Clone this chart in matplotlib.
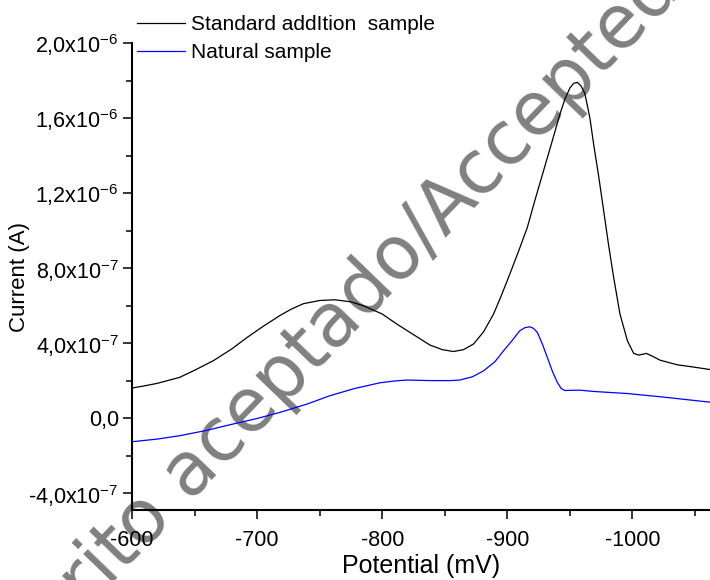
import matplotlib
matplotlib.use("Agg")
import matplotlib.pyplot as plt
from matplotlib.ticker import MultipleLocator

plt.rcParams['font.family'] = ['Liberation Sans', 'DejaVu Sans']
plt.rcParams['mathtext.default'] = 'regular'

# standard addition sample (black)
pot_std = [-600, -610, -620, -638, -650, -665, -680, -692, -705, -718, -727,
           -737, -750, -762, -775, -785, -800, -812, -825, -838, -848, -857,
           -865, -873, -881, -889, -895, -902, -909, -916, -922, -929, -936,
           -942, -946, -950, -953, -956, -959, -962, -966, -969, -973, -977,
           -981, -985, -990, -996, -1001, -1005, -1008, -1011, -1016, -1022,
           -1036, -1049, -1062]
cur_std = [1.60e-7, 1.72e-7, 1.85e-7, 2.17e-7, 2.55e-7, 3.06e-7, 3.70e-7,
           4.30e-7, 4.90e-7, 5.46e-7, 5.80e-7, 6.10e-7, 6.27e-7, 6.31e-7,
           6.20e-7, 5.99e-7, 5.55e-7, 5.00e-7, 4.45e-7, 3.90e-7, 3.65e-7,
           3.55e-7, 3.65e-7, 3.95e-7, 4.60e-7, 5.55e-7, 6.50e-7, 7.68e-7,
           8.90e-7, 1.017e-6, 1.16e-6, 1.32e-6, 1.48e-6, 1.62e-6, 1.70e-6,
           1.76e-6, 1.785e-6, 1.79e-6, 1.77e-6, 1.73e-6, 1.60e-6, 1.46e-6,
           1.29e-6, 1.106e-6, 9.2e-7, 7.5e-7, 5.56e-7, 4.12e-7, 3.45e-7,
           3.36e-7, 3.40e-7, 3.45e-7, 3.30e-7, 3.09e-7, 2.84e-7, 2.72e-7, 2.59e-7]

# natural sample (blue)
pot_nat = [-600, -620, -638, -660, -678, -700, -718, -740, -758, -778, -798,
           -810, -820, -838, -855, -862, -872, -881, -890, -897, -904, -910,
           -914, -918, -921, -924, -928, -932, -936, -940, -943, -946, -950,
           -958, -969, -996, -1022, -1062]
cur_nat = [-1.26e-7, -1.12e-7, -9.4e-8, -6.5e-8, -3.6e-8, -2e-9, 3.0e-8,
           7.5e-8, 1.19e-7, 1.58e-7, 1.88e-7, 1.98e-7, 2.03e-7, 2.00e-7,
           2.00e-7, 2.03e-7, 2.20e-7, 2.52e-7, 3.00e-7, 3.59e-7, 4.15e-7,
           4.66e-7, 4.82e-7, 4.87e-7, 4.78e-7, 4.57e-7, 3.95e-7, 3.23e-7,
           2.50e-7, 1.90e-7, 1.58e-7, 1.47e-7, 1.48e-7, 1.49e-7, 1.42e-7,
           1.31e-7, 1.14e-7, 8.5e-8]

xticks = [-600, -700, -800, -900, -1000]
yticks = [-4e-7, 0, 4e-7, 8e-7, 1.2e-6, 1.6e-6, 2.0e-6]
ylabels = ["-4,0x10$^{-7}$", "0,0", "4,0x10$^{-7}$", "8,0x10$^{-7}$",
           "1,2x10$^{-6}$", "1,6x10$^{-6}$", "2,0x10$^{-6}$"]

fig = plt.figure(figsize=(7.1, 5.8), dpi=100)
ax = fig.add_axes([132/710, 70/580, 1 - 132/710, (510 - 43)/580])

ax.plot(pot_std, cur_std, color='black', lw=0.9, label='Standard addItion  sample', zorder=3)
ax.plot(pot_nat, cur_nat, color='#0000ff', lw=0.9, label='Natural sample', zorder=3)

ax.set_xlim(-600, -1062)
ax.set_ylim(-4.9e-7, 2.0e-6)
ax.set_xticks(xticks)
ax.set_xticklabels([str(t) for t in xticks])
ax.set_yticks(yticks)
ax.set_yticklabels(ylabels)
ax.xaxis.set_minor_locator(MultipleLocator(50))
ax.yaxis.set_minor_locator(MultipleLocator(2e-7))

for s in ['top', 'right']:
    ax.spines[s].set_visible(False)
for s in ['left', 'bottom']:
    ax.spines[s].set_linewidth(1.5)

ax.tick_params(which='major', direction='out', length=6.5, width=1.1, labelsize=15.5, pad=3)
ax.tick_params(which='minor', direction='out', length=4, width=1.1)
ax.tick_params(axis='x', which='major', pad=8)

ax.set_xlabel('Potential (mV)', fontsize=18, labelpad=2)
ax.set_ylabel('Current (A)', fontsize=16, labelpad=-1)

# watermark behind the curves
ax.text(0.9634, 1.0138, "Manuscrito aceptado/Accepted", transform=fig.transFigure,
        rotation=46, rotation_mode='anchor', ha='right', va='baseline',
        fontsize=53, color='#808080', family='DejaVu Sans', zorder=1, clip_on=False)

fig.legend(loc='upper left', bbox_to_anchor=(137/710, 1 - 15.5/580), frameon=False,
           fontsize=15, handlelength=2.3, handletextpad=0.3, labelspacing=0.4,
           borderpad=0, borderaxespad=0)

fig.savefig('out.png', dpi=100)
